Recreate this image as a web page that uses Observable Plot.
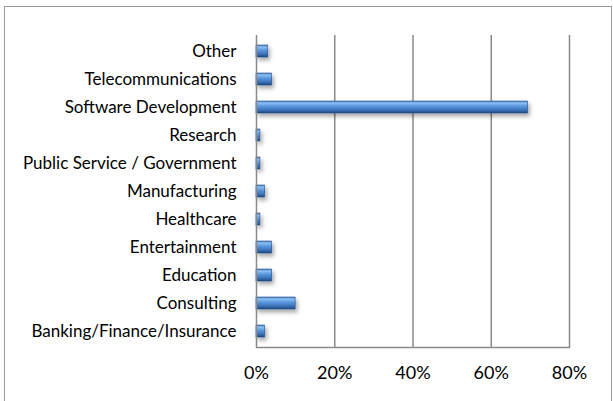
<!DOCTYPE html>
<html>
<head>
<meta charset="utf-8">
<script src="https://cdn.jsdelivr.net/npm/d3@7"></script>
<script src="https://cdn.jsdelivr.net/npm/@observablehq/plot@0.6"></script>
<style>
  html, body { margin: 0; padding: 0; background: #fff; }
  #wrap { position: relative; width: 613px; height: 401px; overflow: hidden; }
  #border { position: absolute; left: 4px; top: 6px; width: 608px; height: 400px; border: 1px solid #9a9a9a; box-sizing: border-box; pointer-events: none; }
  #chart { position: absolute; left: 0; top: 0; }
</style>
</head>
<body>
<div id="wrap"><div id="border"></div><div id="chart"></div></div>
<script>
const categories = [
  "Other",
  "Telecommunications",
  "Software Development",
  "Research",
  "Public Service / Government",
  "Manufacturing",
  "Healthcare",
  "Entertainment",
  "Education",
  "Consulting",
  "Banking/Finance/Insurance"
];
const shares = [0.03, 0.04, 0.694, 0.01, 0.01, 0.022, 0.01, 0.04, 0.04, 0.10, 0.022];
const xTicks = [0, 0.2, 0.4, 0.6, 0.8];
const gridTicks = [0.2, 0.4, 0.6, 0.8];

const data = categories.map((c, i) => ({category: c, share: shares[i]}));

const chart = Plot.plot({
  width: 613,
  height: 401,
  marginLeft: 256,
  marginRight: 44,
  marginTop: 35,
  marginBottom: 54,
  style: {fontFamily: "Lato, sans-serif", fontSize: "17px", color: "#000", background: "transparent", overflow: "visible"},
  x: {domain: [0, 0.8]},
  y: {domain: categories, paddingInner: 0.58, paddingOuter: 0.29, label: null},
  marks: [
    Plot.ruleX(gridTicks, {stroke: "#8a8a8a", strokeWidth: 1.5, strokeOpacity: 1}),
    Plot.frame({anchor: "bottom", stroke: "#8a8a8a", strokeWidth: 1.5}),
    Plot.barX(data, {y: "category", x: "share", fill: "url(#barGrad)", stroke: "#234f88", strokeWidth: 0.6}),
    Plot.ruleX([0], {stroke: "#8a8a8a", strokeWidth: 1.5}),
    Plot.axisY({tickSize: 0, tickPadding: 20, label: null, fontSize: 17}),
    Plot.axisX(xTicks, {tickSize: 0, tickPadding: 19, label: null, fontSize: 18, tickFormat: d3.format(".0%")})
  ]
});

const svg = d3.select(chart);
const defs = svg.insert("defs", ":first-child");
const g = defs.append("linearGradient").attr("id", "barGrad").attr("x1", 0).attr("y1", 0).attr("x2", 0).attr("y2", 1);
[["0%", "#4a80c4"], ["18%", "#8cc0f4"], ["40%", "#5d9be0"], ["75%", "#3d72b8"], ["100%", "#1f4a82"]].forEach(([o, c]) =>
  g.append("stop").attr("offset", o).attr("stop-color", c));
const f = defs.append("filter").attr("id", "shadow").attr("x", "-20%").attr("y", "-50%").attr("width", "160%").attr("height", "250%");
f.append("feDropShadow").attr("dx", 2).attr("dy", 3).attr("stdDeviation", 2).attr("flood-color", "#000").attr("flood-opacity", 0.35);
svg.selectAll("g[aria-label='bar']").attr("filter", "url(#shadow)");

document.getElementById("chart").appendChild(chart);
</script>
</body>
</html>
